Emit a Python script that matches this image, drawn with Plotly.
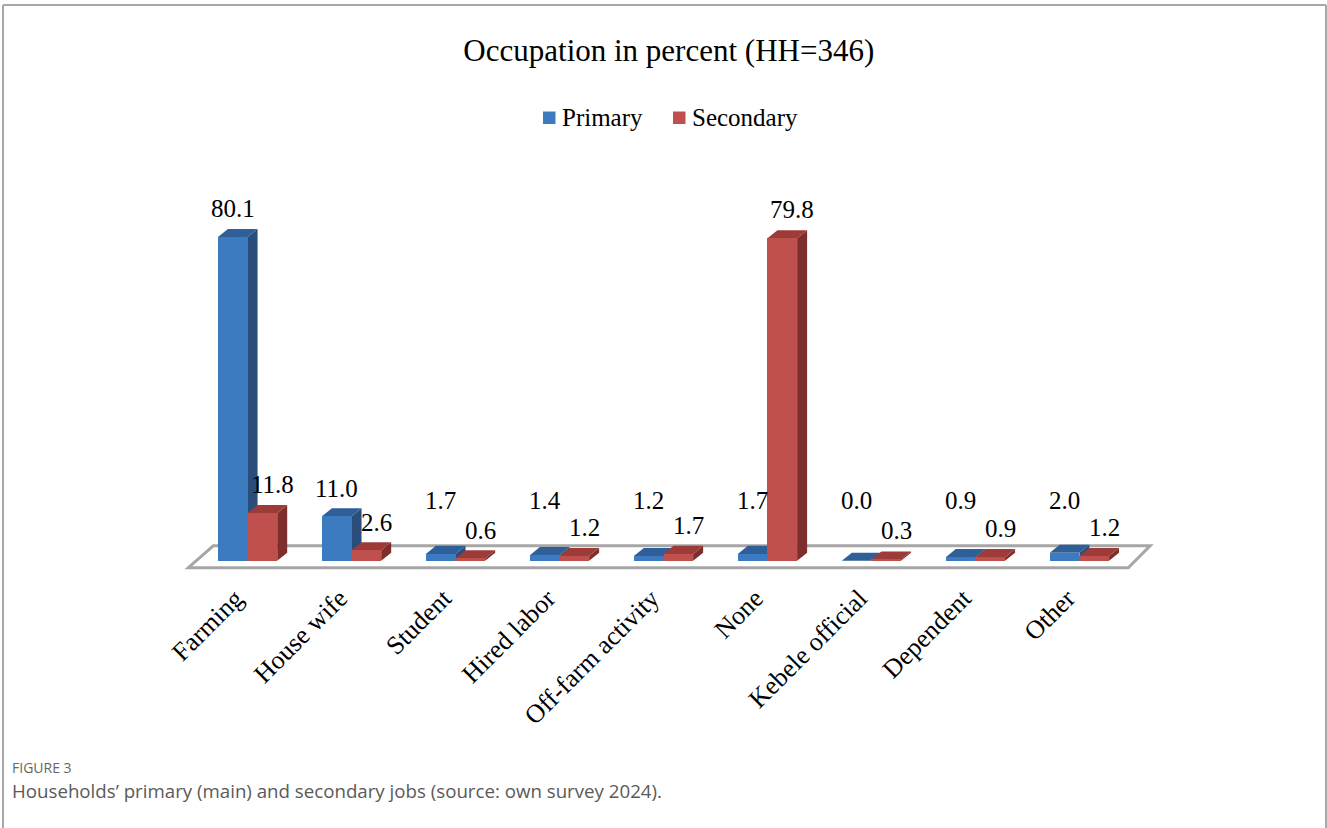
import plotly.graph_objects as go

# ---------------- data ----------------
categories = ["Farming", "House wife", "Student", "Hired labor", "Off-farm activity",
              "None", "Kebele official", "Dependent", "Other"]
primary = [80.1, 11.0, 1.7, 1.4, 1.2, 1.7, 0.0, 0.9, 2.0]
secondary = [11.8, 2.6, 0.6, 1.2, 1.7, 79.8, 0.3, 0.9, 1.2]
series_names = ["Primary", "Secondary"]

# ---------------- layout constants ----------------
W, H = 1327, 828
ML, MR, MT, MB = 154, 154, 197, 251
XR = [-0.9, 8.9]
YR = [-4, 90]
PW = W - ML - MR
PH = H - MT - MB

BLUE, BLUE_SIDE, BLUE_TOP = "#3C7BC0", "#2A4E7C", "#2F5F98"
RED, RED_SIDE, RED_TOP = "#C0504D", "#7C2F2C", "#9C3B38"
BW = 0.285           # bar width in category units
DX, DY = 0.096, 2.0  # 3-D depth offset (x in category units, y in value units)
LABEL_SHIFT = 0.115  # tick labels drawn slightly left of the group centre
SERIF = "Liberation Serif, Times New Roman, serif"
SANS = "Open Sans, sans-serif"


def px2x(px):
    return (px - ML) / PW


def py2y(py):
    return (H - MB - py) / PH


idx = list(range(len(categories)))

fig = go.Figure()
fig.add_trace(go.Bar(x=idx, y=primary, width=BW, offset=-BW, name=series_names[0],
                     marker=dict(color=BLUE, line=dict(width=0))))
fig.add_trace(go.Bar(x=idx, y=secondary, width=BW, offset=0, name=series_names[1],
                     marker=dict(color=RED, line=dict(width=0))))

shapes = []
# floor of the 3-D chart
shapes.append(dict(type="path", xref="x", yref="y", layer="below",
                   path="M -0.57,-1.7 L 8.47,-1.7 L 8.68,3.7 L -0.33,3.7 Z",
                   line=dict(color="#A6A6A6", width=3), fillcolor="rgba(0,0,0,0)"))


def faces(x0, v, side, top):
    x1 = x0 + BW
    return [
        dict(type="path", xref="x", yref="y", layer="below",
             path=f"M {x1},0 L {x1+DX},{DY} L {x1+DX},{v+DY} L {x1},{v} Z",
             fillcolor=side, line=dict(width=0)),
        dict(type="path", xref="x", yref="y", layer="below",
             path=f"M {x0},{v} L {x1},{v} L {x1+DX},{v+DY} L {x0+DX},{v+DY} Z",
             fillcolor=top, line=dict(width=0)),
    ]


for i in idx:
    shapes += faces(i - BW, primary[i], BLUE_SIDE, BLUE_TOP)
    shapes += faces(i, secondary[i], RED_SIDE, RED_TOP)

# outer frame
frame = dict(color="#A8A8A8", width=2)
shapes.append(dict(type="line", xref="paper", yref="paper",
                   x0=px2x(3), x1=px2x(1326), y0=py2y(5), y1=py2y(5), line=frame))
shapes.append(dict(type="line", xref="paper", yref="paper",
                   x0=px2x(3), x1=px2x(3), y0=py2y(5), y1=py2y(830), line=frame))
shapes.append(dict(type="line", xref="paper", yref="paper",
                   x0=px2x(1326), x1=px2x(1326), y0=py2y(5), y1=py2y(830), line=frame))

# legend (drawn manually so that the swatch sits close to its text)
legend_items = [(series_names[0], BLUE, 543), (series_names[1], RED, 673)]
annotations = []
for name, col, sx in legend_items:
    shapes.append(dict(type="rect", xref="paper", yref="paper",
                       x0=px2x(sx), x1=px2x(sx + 12.5), y0=py2y(124), y1=py2y(111.5),
                       fillcolor=col, line=dict(width=0)))
    annotations.append(dict(x=px2x(sx + 17), y=py2y(117), xref="paper", yref="paper",
                            xanchor="left", yanchor="middle", showarrow=False, text=name,
                            font=dict(family=SERIF, size=25, color="black")))

for i in idx:
    annotations.append(dict(x=i - BW / 2, y=max(primary[i] + 7, 15), xref="x", yref="y",
                            text=f"{primary[i]:.1f}", showarrow=False,
                            font=dict(family=SERIF, size=25, color="black")))
    annotations.append(dict(x=i + BW / 2, y=max(secondary[i] + 7, 7.6), xref="x", yref="y",
                            xshift=10, text=f"{secondary[i]:.1f}", showarrow=False,
                            font=dict(family=SERIF, size=25, color="black")))

annotations.append(dict(x=px2x(10), y=py2y(767), xref="paper", yref="paper",
                        xanchor="left", yanchor="middle", showarrow=False,
                        text="FIGURE 3",
                        font=dict(family=SANS, size=14, color="#666666")))
annotations.append(dict(x=px2x(10), y=py2y(790), xref="paper", yref="paper",
                        xanchor="left", yanchor="middle", showarrow=False,
                        text="Households’ primary (main) and secondary jobs (source: own survey 2024).",
                        font=dict(family=SANS, size=18.7, color="#5A5A5A")))

fig.update_layout(
    width=W, height=H,
    margin=dict(l=ML, r=MR, t=MT, b=MB, autoexpand=False),
    paper_bgcolor="white", plot_bgcolor="white",
    title=dict(text="Occupation in percent (HH=346)", xref="container", yref="container",
               x=0.504, y=1 - 50 / H, xanchor="center", yanchor="middle",
               font=dict(family=SERIF, size=31, color="black")),
    showlegend=False,
    xaxis=dict(range=XR, tickvals=[i - LABEL_SHIFT for i in idx], ticktext=categories,
               tickangle=-45, showgrid=False, zeroline=False, showline=False, ticks="",
               tickfont=dict(family=SERIF, size=26, color="black"), automargin=False,
               ticklabelstandoff=0),
    yaxis=dict(range=YR, visible=False, showgrid=False, zeroline=False),
    shapes=shapes, annotations=annotations,
    bargap=0,
)

fig.write_html("out.html")
